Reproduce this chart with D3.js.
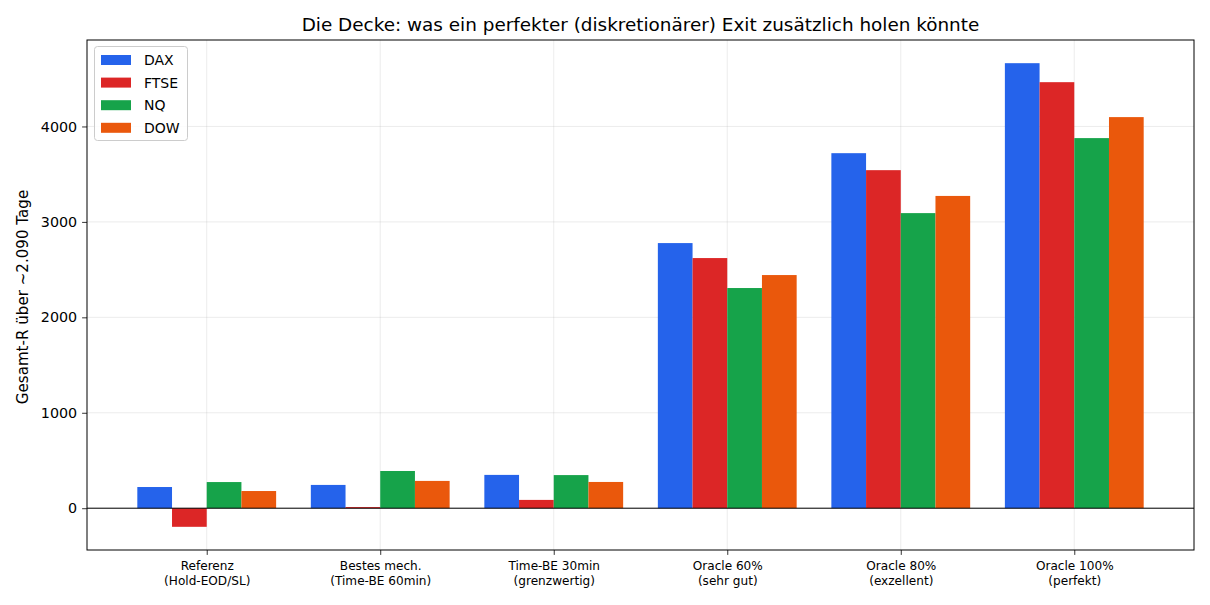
<!DOCTYPE html>
<html><head><meta charset="utf-8">
<script src="https://cdn.jsdelivr.net/npm/d3@7"></script>
<style>body{margin:0;background:#fff}svg{display:block;font-family:"DejaVu Sans",sans-serif}</style>
</head><body><svg id="c" width="1210" height="605"></svg>
<script>
const categories = ["Referenz\n(Hold-EOD/SL)", "Bestes mech.\n(Time-BE 60min)", "Time-BE 30min\n(grenzwertig)", "Oracle 60%\n(sehr gut)", "Oracle 80%\n(exzellent)", "Oracle 100%\n(perfekt)"];
const seriesNames = ["DAX", "FTSE", "NQ", "DOW"];
const seriesColors = ["#2563eb", "#dc2626", "#16a34a", "#ea580c"];
const DAX  = [222, 244, 349, 2778, 3720, 4663];
const FTSE = [-195, 12, 87, 2621, 3542, 4464];
const NQ   = [274, 390, 347, 2307, 3092, 3878];
const DOW  = [180, 286, 275, 2443, 3272, 4098];
const yTicks = [0, 1000, 2000, 3000, 4000];
const title = "Die Decke: was ein perfekter (diskretionärer) Exit zusätzlich holen könnte";
const yLabel = "Gesamt-R über ~2.090 Tage";

const series = [DAX, FTSE, NQ, DOW];
const svg = d3.select("#c");
const L = 87, R = 1194, T = 40, B = 550;
const barW = 0.2;
const x = d3.scaleLinear().domain([-0.69, 5.69]).range([L, R]);
const allV = series.flat();
const yMin = d3.min(allV), yMax = d3.max(allV), pad = (yMax - yMin) * 0.05;
const y = d3.scaleLinear().domain([yMin - pad, yMax + pad]).range([B, T]);

// grid
const g = svg.append("g");
g.selectAll(".gx").data(categories).join("line")
  .attr("x1", (d,i)=>x(i)).attr("x2", (d,i)=>x(i)).attr("y1", T).attr("y2", B)
  .attr("stroke", "#b0b0b0").attr("stroke-opacity", 0.3).attr("stroke-width", 0.8);
g.selectAll(".gy").data(yTicks).join("line")
  .attr("x1", L).attr("x2", R).attr("y1", d=>y(d)).attr("y2", d=>y(d))
  .attr("stroke", "#b0b0b0").attr("stroke-opacity", 0.3).attr("stroke-width", 0.8);

// bars
series.forEach((vals, si) => {
  svg.append("g").selectAll("rect").data(vals).join("rect")
    .attr("x", (d,i) => x(i + (si - 2) * barW))
    .attr("width", x(barW) - x(0))
    .attr("y", d => y(Math.max(0, d)))
    .attr("height", d => Math.abs(y(d) - y(0)))
    .attr("fill", seriesColors[si]);
});

// zero line
svg.append("line").attr("x1", L).attr("x2", R).attr("y1", y(0)).attr("y2", y(0))
  .attr("stroke", "#000").attr("stroke-width", 1);

// axes
const yAxis = svg.append("g").attr("transform", `translate(${L},0)`)
  .call(d3.axisLeft(y).tickValues(yTicks).tickSize(4.9).tickPadding(4.9).tickFormat(d3.format("d")));
yAxis.select(".domain").remove();
yAxis.selectAll("text").attr("font-size", "14.3px").attr("font-family", "DejaVu Sans").attr("fill", "#000");
yAxis.selectAll("line").attr("stroke", "#000").attr("stroke-width", 0.8);

const xAxis = svg.append("g").attr("transform", `translate(0,${B})`)
  .call(d3.axisBottom(x).tickValues(d3.range(categories.length)).tickSize(4.9).tickFormat(""));
xAxis.select(".domain").remove();
xAxis.selectAll("line").attr("stroke", "#000").attr("stroke-width", 0.8);
xAxis.selectAll(".tick").each(function(d) {
  const t = d3.select(this).append("text").attr("text-anchor", "middle")
    .attr("font-size", "12.1px").attr("font-family", "DejaVu Sans").attr("fill", "#000");
  categories[d].split("\n").forEach((ln, k) => {
    t.append("tspan").attr("x", 0).attr("y", 20 + k * 14.6).text(ln);
  });
});

// frame
svg.append("rect").attr("x", L).attr("y", T).attr("width", R - L).attr("height", B - T)
  .attr("fill", "none").attr("stroke", "#000").attr("stroke-width", 1);

// title & labels
svg.append("text").attr("x", (L + R) / 2).attr("y", 31).attr("text-anchor", "middle")
  .attr("font-size", "18.4px").text(title);
svg.append("text").attr("transform", `translate(28,${(T + B) / 2 + 2}) rotate(-90)`)
  .attr("text-anchor", "middle").attr("font-size", "15.1px").text(yLabel);

// legend
const lg = svg.append("g");
lg.append("rect").attr("x", 94.5).attr("y", 46.5).attr("width", 93).attr("height", 94)
  .attr("rx", 3).attr("fill", "#fff").attr("fill-opacity", 0.8)
  .attr("stroke", "#cccccc").attr("stroke-width", 1);
seriesNames.forEach((n, i) => {
  const cy = 60 + i * 22.6;
  lg.append("rect").attr("x", 101).attr("y", cy - 5).attr("width", 30).attr("height", 10).attr("fill", seriesColors[i]);
  lg.append("text").attr("x", 144).attr("y", cy + 5).attr("font-size", "14px").text(n);
});
</script></body></html>
